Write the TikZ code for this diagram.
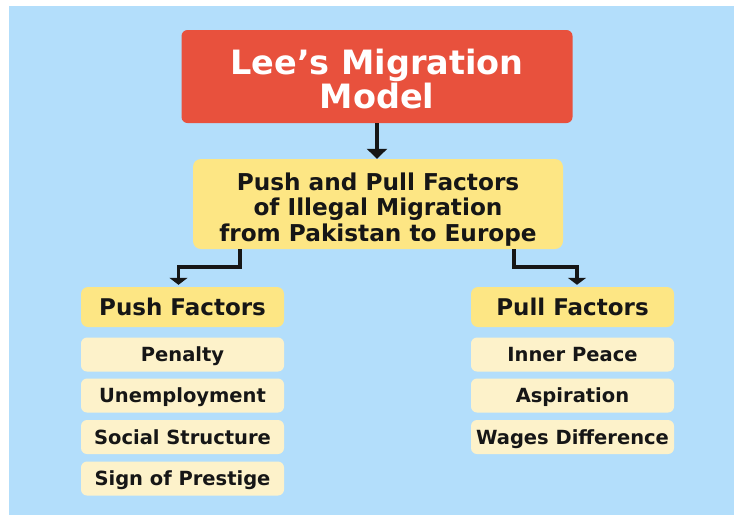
\documentclass[tikz,border=0pt]{standalone}
\usepackage{fontspec}
\newfontfamily\dvb{DejaVu Sans}
\usetikzlibrary{arrows.meta}
\definecolor{bgblue}{RGB}{179,222,251}
\definecolor{titlered}{RGB}{232,81,61}
\definecolor{headyellow}{RGB}{253,230,132}
\definecolor{itemcream}{RGB}{253,242,202}
\definecolor{inkdark}{RGB}{22,22,22}
\tikzset{
  titlebox/.style={fill=titlered, rounded corners=6pt, minimum width=391pt, minimum height=93pt,
    text=white, align=center, inner sep=0pt, font=\dvb\bfseries\fontsize{33.5}{34}\selectfont},
  mainbox/.style={fill=headyellow, rounded corners=8pt, minimum width=370pt, minimum height=90pt,
    text=inkdark, align=center, inner sep=0pt, font=\dvb\bfseries\fontsize{23.2}{25.5}\selectfont},
  headbox/.style={fill=headyellow, rounded corners=7pt, minimum width=203pt, minimum height=40pt,
    text=inkdark, inner sep=0pt, text height=16.8pt, text depth=0pt,
    font=\dvb\bfseries\fontsize{23}{25}\selectfont},
  itembox/.style={fill=itemcream, rounded corners=6pt, minimum width=203pt, minimum height=34pt,
    text=inkdark, inner sep=0pt, text height=14.2pt, text depth=0pt,
    font=\dvb\bfseries\fontsize{19.5}{22}\selectfont},
  mainarrow/.style={draw=inkdark, line width=4.5pt, -{Triangle[width=20pt,length=10pt]}},
  conn/.style={draw=inkdark, line width=3.5pt, -{Triangle[width=18pt,length=7pt]}}
}
\begin{document}
\begin{tikzpicture}[x=1pt,y=-1pt]
\useasboundingbox (0,0) rectangle (734,515);
\fill[white] (0,0) rectangle (734,515);
\fill[bgblue] (9,6) rectangle (734,515);

\node[titlebox] (title) at (377,76.5) {\rule{0pt}{30.5pt}Lee’s Migration\\Model};
\node[mainbox] (main) at (378,204) {\rule{0pt}{28pt}Push and Pull Factors\\of Illegal Migration\\from Pakistan to Europe};

\node[headbox] (push) at (182.5,307) {Push Factors};
\node[itembox] (p1) at (182.5,354.5) {Penalty};
\node[itembox] (p2) at (182.5,395.5) {Unemployment};
\node[itembox] (p3) at (182.5,437) {Social Structure};
\node[itembox] (p4) at (182.5,478.5) {Sign of Prestige};

\node[headbox] (pull) at (572.5,307) {Pull Factors};
\node[itembox] (q1) at (572.5,354.5) {Inner Peace};
\node[itembox] (q2) at (572.5,395.5) {Aspiration};
\node[itembox] (q3) at (572.5,437) {Wages Difference};

\draw[mainarrow] (title.south) -- (title.south |- main.north);
\draw[conn] ([xshift=47pt]main.south west) -- ++(0,18) -| ([xshift=-4pt,yshift=2pt]push.north);
\draw[conn] ([xshift=-49pt]main.south east) -- ++(0,18) -| ([xshift=4.5pt,yshift=2pt]pull.north);
\end{tikzpicture}
\end{document}
